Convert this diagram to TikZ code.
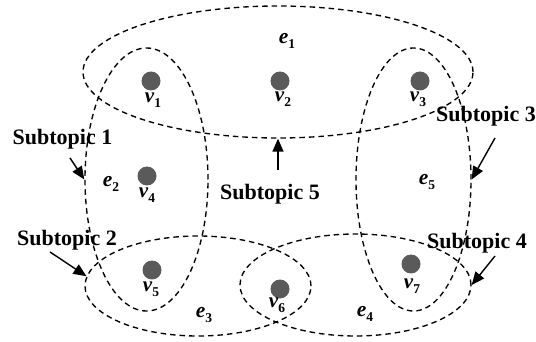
\documentclass[tikz,border=0pt]{standalone}
\usepackage{fontspec}
\setmainfont{Liberation Serif}
\usetikzlibrary{shapes.geometric,arrows.meta}
\definecolor{vgray}{RGB}{90,90,90}
\newcommand{\vlab}[1]{\fontsize{21}{21}\selectfont\bfseries\itshape v\raisebox{-4.5pt}{\fontsize{13.5}{13.5}\selectfont\upshape #1}}
\newcommand{\elab}[1]{\fontsize{21.5}{21.5}\selectfont\bfseries\itshape e\raisebox{-4.5pt}{\fontsize{13.5}{13.5}\selectfont\upshape #1}}
\begin{document}
\begin{tikzpicture}[x=1pt,y=-1pt,
  hedge/.style={draw, dash pattern=on 5.5pt off 4pt, line width=1.35pt, ellipse, inner sep=0pt},
  vert/.style={circle, fill=vgray, minimum size=19pt, inner sep=0pt},
  lab/.style={inner sep=0pt},
  subt/.style={inner sep=0pt, anchor=base, font=\fontsize{22}{22}\selectfont\bfseries},
  arr/.style={line width=1.4pt, -{Triangle[length=13pt,width=11pt]}}]
\useasboundingbox (0,0) rectangle (536,342);
% hyperedges
\node[hedge, minimum width=390pt, minimum height=132pt] (e1) at (278,72) {};
\node[hedge, minimum width=123pt, minimum height=263pt] (e2) at (146.5,179.5) {};
\node[hedge, minimum width=115pt, minimum height=263pt] (e5) at (413.5,179.5) {};
\node[hedge, minimum width=226pt, minimum height=100pt] (e3) at (198,286) {};
\node[hedge, minimum width=231pt, minimum height=102pt] (e4) at (355.5,285) {};
% vertices
\node[vert] (v1) at (151,81) {};
\node[vert] (v2) at (280,81) {};
\node[vert] (v3) at (420,81) {};
\node[vert] (v4) at (147,176) {};
\node[vert] (v5) at (152,270) {};
\node[vert] (v6) at (280,289) {};
\node[vert] (v7) at (411,264) {};
% vertex labels
\node[lab] (lv1) at (153,100) {\vlab{1}};
\node[lab] (lv2) at (283,99) {\vlab{2}};
\node[lab] (lv3) at (418,99) {\vlab{3}};
\node[lab] (lv4) at (147,195) {\vlab{4}};
\node[lab] (lv5) at (151,289) {\vlab{5}};
\node[lab] (lv6) at (277,305) {\vlab{6}};
\node[lab] (lv7) at (412,286) {\vlab{7}};
% edge labels
\node[lab] (le1) at (287,41) {\elab{1}};
\node[lab] (le2) at (111,184) {\elab{2}};
\node[lab] (le3) at (204,315) {\elab{3}};
\node[lab] (le4) at (365,314) {\elab{4}};
\node[lab] (le5) at (427,182) {\elab{5}};
% subtopic labels
\node[subt] (s1) at (62.5,145) {Subtopic 1};
\node[subt] (s2) at (67,246) {Subtopic 2};
\node[subt] (s3) at (486,122) {Subtopic 3};
\node[subt] (s4) at (477,248) {Subtopic 4};
\node[subt] (s5) at (270,200) {Subtopic 5};
% arrows
\coordinate (t1) at (70,158);
\coordinate (t2) at (50,252);
\coordinate (t3) at (495,138);
\coordinate (t4) at (495,256);
\coordinate (t5) at (278,170);
\draw[arr] (t1) -- (e2.west);
\draw[arr] (t2) -- (e3.175);
\draw[arr] (t3) -- (e5.east);
\draw[arr] (t4) -- (e4.east);
\draw[arr] (t5) -- (e1.south);
\end{tikzpicture}
\end{document}
